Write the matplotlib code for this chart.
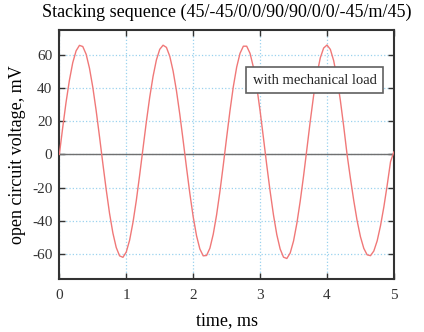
import numpy as np
import matplotlib.pyplot as plt

# time, ms
t = np.round(np.arange(0, 5.001, 0.05), 2)
# open circuit voltage, mV
v = [0.0, 16.1, 31.3, 44.5, 55.1, 62.2, 65.5, 64.8, 60.2, 51.8,
     40.3, 26.3, 10.7, -5.5, -21.1, -35.4, -47.2, -55.9, -60.9, -61.8,
     -58.6, -51.5, -40.9, -27.7, -12.4, 3.6, 19.5, 34.2, 46.8, 56.7,
     63.1, 65.6, 64.3, 59.0, 50.1, 38.3, 24.1, 8.4, -7.8, -23.4,
     -37.4, -48.8, -56.8, -60.9, -60.7, -56.3, -47.9, -36.3, -22.2, -6.4,
     10.1, 26.2, 40.7, 52.4, 60.7, 65.0, 65.0, 60.7, 52.4, 40.7,
     26.2, 10.0, -6.5, -22.1, -36.3, -48.2, -56.8, -61.7, -62.5, -59.2,
     -52.0, -41.3, -28.0, -12.9, 3.4, 20.0, 35.3, 48.2, 58.0, 63.9,
     65.7, 63.1, 56.3, 45.9, 32.4, 16.8, 0.0, -14.3, -27.7, -39.7,
     -49.4, -56.4, -60.3, -60.8, -58.0, -51.9, -42.8, -31.5, -18.4, -4.3,
     1.5]

xticks = [0, 1, 2, 3, 4, 5]
yticks = [-60, -40, -20, 0, 20, 40, 60]

plt.rcParams['font.family'] = ['Liberation Serif', 'DejaVu Serif']
plt.rcParams['axes.unicode_minus'] = False

fig = plt.figure(figsize=(4.24, 3.32), dpi=100)
ax = fig.add_axes([0.14, 0.1587, 0.789, 0.7523])

ax.axhline(0, color='#707070', lw=1.0, zorder=2)
ax.plot(t, v, color='#f07878', lw=1.0, zorder=3)

ax.set_xlim(0, 5)
ax.set_ylim(-75, 75)
ax.set_xticks(xticks)
ax.set_yticks(yticks)
ax.grid(True, color='#9ad2ee', ls=':', lw=0.9)
ax.tick_params(direction='in', top=True, right=True, length=4, width=1,
               colors='#333333', labelsize=11, pad=5)
ax.tick_params(axis='x', pad=7)
for s in ax.spines.values():
    s.set_linewidth(1.5)
    s.set_color('#333333')

ax.set_title('Stacking sequence (45/-45/0/0/90/90/0/0/-45/m/45)',
             fontsize=13, pad=9)
ax.set_xlabel('time, ms', fontsize=13, labelpad=7)
ax.set_ylabel('open circuit voltage, mV', fontsize=13, labelpad=4)

ax.text(0.764, 0.798, 'with mechanical load', transform=ax.transAxes,
        ha='center', va='center', fontsize=10.5, color='#222222',
        bbox=dict(boxstyle='square,pad=0.45', fc='white', ec='#606060', lw=1.2),
        zorder=5)

fig.savefig('out.png', dpi=100)
